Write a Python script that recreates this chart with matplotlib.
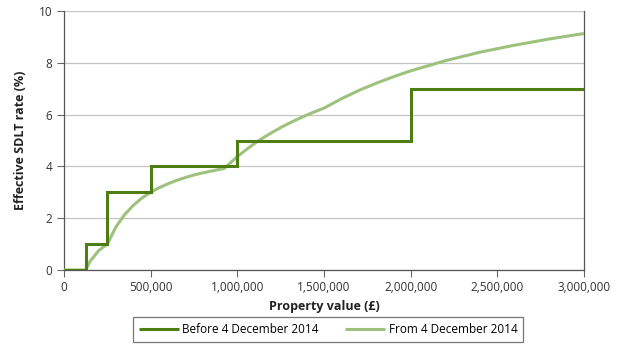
import matplotlib
matplotlib.use("Agg")
import matplotlib.pyplot as plt

plt.rcParams['font.family'] = ['Open Sans', 'DejaVu Sans']

# Before 4 December 2014 (slab system) - step points
old_x = [0, 125000, 125000, 250000, 250000, 500000, 500000, 1000000, 1000000, 2000000, 2000000, 3000000]
old_y = [0, 0, 1, 1, 3, 3, 4, 4, 5, 5, 7, 7]

# From 4 December 2014
new_x = [0, 125000, 150000, 200000, 250000, 300000, 350000, 400000, 450000, 500000, 550000,
         600000, 650000, 700000, 750000, 800000, 850000, 900000, 925000, 950000, 1000000,
         1050000, 1100000, 1150000, 1200000, 1250000, 1300000, 1350000, 1400000, 1450000,
         1500000, 1600000, 1700000, 1800000, 1900000, 2000000, 2200000, 2400000, 2600000,
         2800000, 3000000]
new_y = [0, 0, 0.33, 0.75, 1.0, 1.67, 2.14, 2.5, 2.78, 3.0, 3.18,
         3.33, 3.46, 3.57, 3.67, 3.75, 3.82, 3.89, 3.92, 4.08, 4.38,
         4.64, 4.89, 5.11, 5.31, 5.5, 5.67, 5.83, 5.98, 6.12,
         6.25, 6.61, 6.93, 7.21, 7.46, 7.69, 8.08, 8.41, 8.68,
         8.92, 9.13]

x_ticks = [0, 500000, 1000000, 1500000, 2000000, 2500000, 3000000]
x_tick_labels = ['0', '500,000', '1,000,000', '1,500,000', '2,000,000', '2,500,000', '3,000,000']
y_ticks = [0, 2, 4, 6, 8, 10]

dark = '#4e7e12'
light = '#9ec27d'

fig = plt.figure(figsize=(6.2, 3.53), dpi=100)
ax = fig.add_axes([64/620, 1 - 270/353, 520/620, 259/353])

ax.plot(new_x, new_y, color=light, lw=2.2, label='From 4 December 2014', zorder=3,
        solid_capstyle='butt')
ax.plot(old_x, old_y, color=dark, lw=2.2, label='Before 4 December 2014', zorder=4,
        solid_joinstyle='miter', solid_capstyle='butt')

ax.set_xlim(0, 3000000)
ax.set_ylim(0, 10)
ax.set_xticks(x_ticks)
ax.set_xticklabels(x_tick_labels)
ax.set_yticks(y_ticks)
ax.yaxis.grid(True, color='#c4c4c4', lw=0.9)
ax.set_axisbelow(True)

for s in ['left', 'bottom', 'right']:
    ax.spines[s].set_color('#555555')
    ax.spines[s].set_linewidth(0.9)
ax.spines['top'].set_visible(False)

ax.tick_params(axis='both', colors='#666666', labelcolor='#333333', labelsize=8.5,
               length=5, width=0.8, direction='out')
ax.tick_params(axis='x', pad=3)

ax.set_xlabel('Property value (£)', fontsize=9, fontweight='bold', color='#222222', labelpad=4)
ax.set_ylabel('Effective SDLT rate (%)', fontsize=9, fontweight='bold', color='#222222', labelpad=8)

handles, labels = ax.get_legend_handles_labels()
leg = fig.legend(handles[::-1], labels[::-1], loc='upper center', ncol=2,
                 bbox_to_anchor=(328/620, 1 - 317/353), fontsize=8.5, frameon=True,
                 fancybox=False, edgecolor='#555555', handlelength=3.4, handletextpad=0.3,
                 columnspacing=2.2, borderpad=0.5, borderaxespad=0)
leg.get_frame().set_linewidth(0.9)

fig.savefig('out.png', dpi=100)
